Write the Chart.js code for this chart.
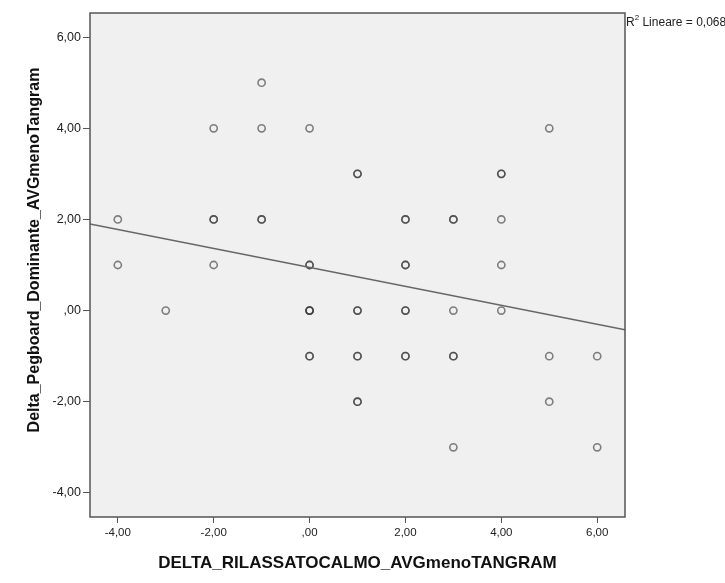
<!DOCTYPE html>
<html><head><meta charset="utf-8">
<script src="https://cdn.jsdelivr.net/npm/chart.js@4"></script>
<style>html,body{margin:0;padding:0;background:#fff}canvas{display:block}</style>
</head><body>
<canvas id="c" width="725" height="583"></canvas>
<script>
// Observations (repeated pairs = overlapping cases, which draw darker)
const xValues = [-4,-4,-3,-2,-2,-2,-2,-1,-1,-1,-1,
                 0,0,0,0,0,0,0,0,
                 1,1,1,1,1,1,1,1,
                 2,2,2,2,2,2,2,2,
                 3,3,3,3,3,3,
                 4,4,4,4,4,
                 5,5,5,6,6];
const yValues = [2,1,0,4,2,2,1,5,4,2,2,
                 4,1,1,0,0,0,-1,-1,
                 3,3,0,0,-1,-1,-2,-2,
                 2,2,1,1,0,0,-1,-1,
                 2,2,0,-1,-1,-3,
                 3,3,2,1,0,
                 4,-1,-2,-1,-3];
// Linear fit line, values at the two axis bounds
const fitX = [-4.58, 6.58];
const fitY = [1.90, -0.42];
const xTicks = [-4, -2, 0, 2, 4, 6];
const yTicks = [-4, -2, 0, 2, 4, 6];
const xTitle = 'DELTA_RILASSATOCALMO_AVGmenoTANGRAM';
const yTitle = 'Delta_Pegboard_Dominante_AVGmenoTangram';
const r2Text = ' Lineare = 0,068';
</script>
<script>
const fmt = v => v === 0 ? ',00' : v.toFixed(2).replace('.', ',');
const FONT = '"Liberation Sans", Arial, sans-serif';

const deco = {
  id: 'deco',
  beforeDraw(chart) {
    const {ctx, chartArea: a} = chart;
    ctx.save();
    ctx.fillStyle = '#f0f0f0';
    ctx.fillRect(a.left, a.top, a.right - a.left, a.bottom - a.top);
    ctx.restore();
  },
  afterDraw(chart) {
    const {ctx, chartArea: a} = chart;
    ctx.save();
    ctx.strokeStyle = '#555';
    ctx.lineWidth = 1.5;
    ctx.strokeRect(a.left, a.top, a.right - a.left, a.bottom - a.top);
    ctx.fillStyle = '#111';
    ctx.textAlign = 'center';
    ctx.textBaseline = 'middle';
    ctx.font = 'bold 17px ' + FONT;
    ctx.fillText(xTitle, (a.left + a.right) / 2, 563);
    ctx.save();
    ctx.translate(35, 250);
    ctx.rotate(-Math.PI / 2);
    ctx.font = 'bold 16px ' + FONT;
    ctx.fillText(yTitle, 0, 0);
    ctx.restore();
    // R² label
    ctx.font = '12px ' + FONT;
    ctx.textAlign = 'left';
    ctx.textBaseline = 'alphabetic';
    ctx.fillStyle = '#222';
    ctx.fillText('R', a.right + 1, 26);
    const rw = ctx.measureText('R').width;
    ctx.font = '8px ' + FONT;
    ctx.fillText('2', a.right + 1 + rw, 20);
    const sw = ctx.measureText('2').width;
    ctx.font = '12px ' + FONT;
    ctx.fillText(r2Text, a.right + 1 + rw + sw, 26);
    ctx.restore();
  }
};

new Chart(document.getElementById('c'), {
  data: {
    datasets: [
      {
        type: 'scatter',
        data: xValues.map((x, i) => ({x, y: yValues[i]})),
        borderColor: 'rgba(50,50,50,0.6)',
        backgroundColor: 'rgba(0,0,0,0)',
        borderWidth: 1.6,
        pointRadius: 3.6,
        order: 2
      },
      {
        type: 'line',
        data: fitX.map((x, i) => ({x, y: fitY[i]})),
        borderColor: '#666',
        borderWidth: 1.5,
        pointRadius: 0,
        fill: false,
        order: 1
      }
    ]
  },
  options: {
    responsive: false,
    animation: false,
    events: [],
    layout: {padding: {left: 0, right: 100, top: 13, bottom: 0}},
    plugins: {legend: {display: false}, tooltip: {enabled: false}},
    scales: {
      x: {
        type: 'linear', min: -4.58, max: 6.58,
        afterBuildTicks: s => { s.ticks = xTicks.map(v => ({value: v})); },
        afterFit: s => { s.height = 66; },
        border: {display: false},
        grid: {drawOnChartArea: false, drawTicks: true, tickLength: 6, color: '#555', lineWidth: 1},
        ticks: {callback: v => fmt(v), color: '#222', font: {family: FONT, size: 11.5}, padding: 3, maxRotation: 0, autoSkip: false}
      },
      y: {
        type: 'linear', min: -4.53, max: 6.53,
        afterBuildTicks: s => { s.ticks = yTicks.map(v => ({value: v})); },
        afterFit: s => { s.width = 90; },
        border: {display: false},
        grid: {drawOnChartArea: false, drawTicks: true, tickLength: 7, color: '#555', lineWidth: 1},
        ticks: {callback: v => fmt(v), color: '#222', font: {family: FONT, size: 12.5}, padding: 2, autoSkip: false}
      }
    }
  },
  plugins: [deco]
});
</script>
</body></html>
